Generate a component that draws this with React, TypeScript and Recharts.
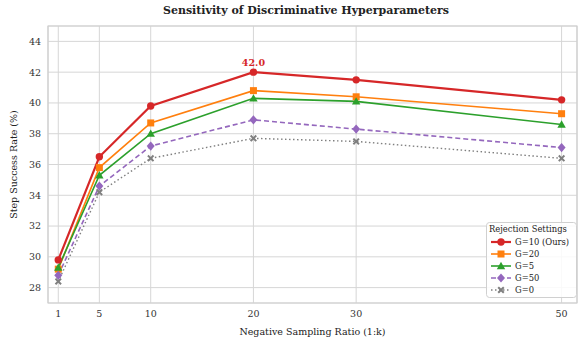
import React from "react";
import {
  LineChart, Line, XAxis, YAxis, CartesianGrid, Legend,
  ReferenceArea, ReferenceDot, Label,
} from "recharts";

const ratios = [1, 5, 10, 20, 30, 50];
const g10 = [29.8, 36.5, 39.8, 42.0, 41.5, 40.2];
const g20 = [29.2, 35.8, 38.7, 40.8, 40.4, 39.3];
const g5 = [29.3, 35.3, 38.0, 40.3, 40.1, 38.6];
const g50 = [28.8, 34.6, 37.2, 38.9, 38.3, 37.1];
const g0 = [28.4, 34.2, 36.4, 37.7, 37.5, 36.4];
const yTicks = [28, 30, 32, 34, 36, 38, 40, 42, 44];

const FONT = "DejaVu Serif";

const series = [
  { key: "g10", name: "G=10 (Ours)", values: g10, color: "#d62728", width: 2.2, dash: undefined, shape: "circle" },
  { key: "g20", name: "G=20", values: g20, color: "#ff7f0e", width: 1.6, dash: undefined, shape: "square" },
  { key: "g5", name: "G=5", values: g5, color: "#2ca02c", width: 1.6, dash: undefined, shape: "triangle" },
  { key: "g50", name: "G=50", values: g50, color: "#9467bd", width: 1.6, dash: "5 3", shape: "diamond" },
  { key: "g0", name: "G=0", values: g0, color: "#7f7f7f", width: 1.4, dash: "1.5 2.5", shape: "x" },
];

const data = ratios.map((r, i) => {
  const row: Record<string, number> = { x: r };
  series.forEach((s) => (row[s.key] = s.values[i]));
  return row;
});

const peakIdx = g10.indexOf(Math.max(...g10));

function marker(shape: string, cx: number, cy: number, color: string, key?: string | number) {
  switch (shape) {
    case "circle":
      return <circle key={key} cx={cx} cy={cy} r={3.7} fill={color} />;
    case "square":
      return <rect key={key} x={cx - 3.5} y={cy - 3.5} width={7} height={7} fill={color} />;
    case "triangle": {
      const h = 4.2;
      return <polygon key={key} points={`${cx},${cy - h} ${cx + h},${cy + h * 0.75} ${cx - h},${cy + h * 0.75}`} fill={color} />;
    }
    case "diamond":
      return <polygon key={key} points={`${cx},${cy - 4.6} ${cx + 4},${cy} ${cx},${cy + 4.6} ${cx - 4},${cy}`} fill={color} />;
    default: {
      const h = 3.5, t = 1.4;
      const pts = [
        [-h, -h + t], [-h + t, -h], [0, -t], [h - t, -h], [h, -h + t], [t, 0],
        [h, h - t], [h - t, h], [0, t], [-h + t, h], [-h, h - t], [-t, 0],
      ].map(([a, b]) => `${cx + a},${cy + b}`).join(" ");
      return <polygon key={key} points={pts} fill={color} />;
    }
  }
}

// legend drawn as svg so it uses the same font rendering as the axes
function LegendBox() {
  return (
    <svg width={91} height={76} style={{ display: "block" }}>
      <rect x={0.5} y={0.5} width={90} height={75} rx={3} fill="#fff" fillOpacity={0.85} stroke="#d0d0d0" />
      <text x={3} y={7} dominantBaseline="central" fontFamily={FONT} fontSize={8.4} fill="#222">
        Rejection Settings
      </text>
      {series.map((s, i) => {
        const cy = 20 + i * 12;
        return (
          <g key={s.key}>
            <line x1={5} y1={cy} x2={25} y2={cy} stroke={s.color} strokeWidth={s.width} strokeDasharray={s.dash} />
            {marker(s.shape, 15, cy, s.color)}
            <text x={29} y={cy} dominantBaseline="central" fontFamily={FONT} fontSize={8.4} fill="#222">
              {s.name}
            </text>
          </g>
        );
      })}
    </svg>
  );
}

export default function App() {
  return (
    <div style={{ position: "absolute", left: 0, top: 0, width: 578, height: 345, background: "#fff" }}>
      <div
        style={{
          position: "absolute", left: 0, top: 4, width: 612, textAlign: "center",
          fontFamily: FONT, fontWeight: "bold", fontSize: 11, lineHeight: "14px", color: "#222",
        }}
      >
        Sensitivity of Discriminative Hyperparameters
      </div>
      <LineChart width={578} height={345} data={data} margin={{ top: 26, right: 1, left: 0, bottom: 0 }}>
        <CartesianGrid stroke="#d6d6d6" strokeWidth={1} />
        <ReferenceArea x1={0} x2={51.5} y1={27} y2={45} fill="none" stroke="#cfcfcf" strokeWidth={1.2} />
        <XAxis
          dataKey="x" type="number" domain={[0, 51.5]} ticks={ratios} height={42}
          tickLine={false} axisLine={false} tickSize={5} tickMargin={2}
          tick={{ fontSize: 9.5, fill: "#333", fontFamily: FONT }}
          allowDataOverflow
        >
          <Label value="Negative Sampling Ratio (1:k)" position="insideBottom" offset={10}
            style={{ fontSize: 9.5, fill: "#222", fontFamily: FONT }} />
        </XAxis>
        <YAxis
          type="number" domain={[27, 45]} ticks={yTicks} width={48}
          tickLine={false} axisLine={false} tickSize={5} tickMargin={2}
          tick={{ fontSize: 9.5, fill: "#333", fontFamily: FONT }}
          allowDataOverflow
        >
          <Label value="Step Success Rate (%)" angle={-90} position="insideLeft" offset={14}
            style={{ fontSize: 9.5, fill: "#222", fontFamily: FONT, textAnchor: "middle" }} />
        </YAxis>
        {series.map((s) => (
          <Line
            key={s.key} dataKey={s.key} name={s.name} type="linear"
            stroke={s.color} strokeWidth={s.width} strokeDasharray={s.dash}
            dot={(p: any) => marker(s.shape, p.cx, p.cy, s.color, `${s.key}-${p.index}`)}
            activeDot={false} isAnimationActive={false}
          />
        ))}
        <ReferenceDot
          x={ratios[peakIdx]} y={g10[peakIdx]} r={0} fill="none" stroke="none"
          label={{
            value: g10[peakIdx].toFixed(1), position: "top", offset: 6,
            fill: "#d62728", fontWeight: "bold", fontSize: 9.5, fontFamily: FONT,
          }}
        />
        <Legend
          layout="vertical" align="center" verticalAlign="middle"
          content={() => <LegendBox />}
          wrapperStyle={{ left: 486, top: 222, width: 91 }}
        />
      </LineChart>
    </div>
  );
}
